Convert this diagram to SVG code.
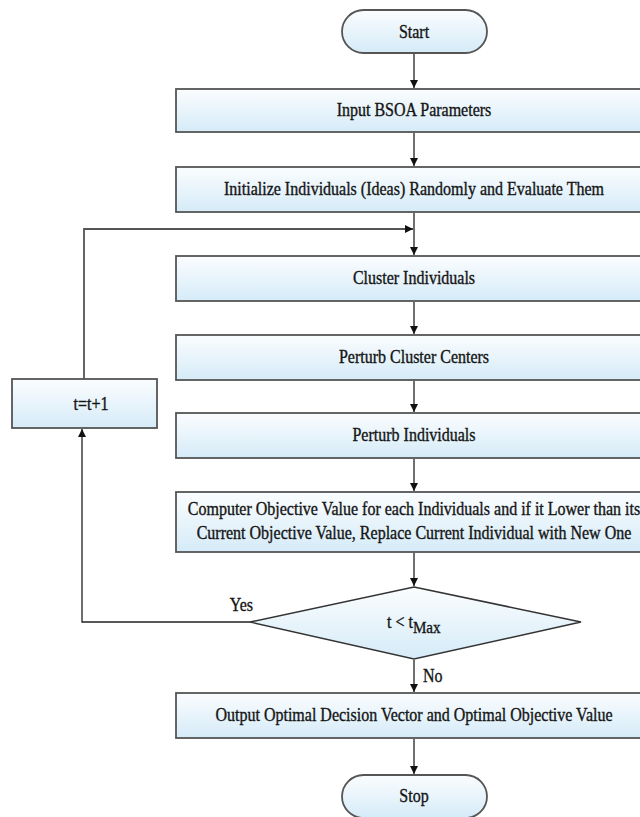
<svg xmlns="http://www.w3.org/2000/svg" width="640" height="817" viewBox="0 0 640 817">
<defs>
<linearGradient id="g" x1="0" y1="0" x2="0" y2="1">
<stop offset="0" stop-color="#fbfdfe"/>
<stop offset="1" stop-color="#d5ebf8"/>
</linearGradient>
<marker id="ah" markerWidth="8" markerHeight="8" refX="8" refY="4" orient="auto" markerUnits="userSpaceOnUse">
<path d="M0,0 L8,4 L0,8 Z" fill="#111"/>
</marker>
</defs>
<style>
.box{fill:url(#g);stroke:#555;stroke-width:1.8}
.dia{fill:url(#g);stroke:#333;stroke-width:1.5}
.t{font-family:"Liberation Serif","Times New Roman",serif;font-size:18px;fill:#151515;stroke:#151515;stroke-width:0.35;text-anchor:middle}
.c{fill:none;stroke:#222;stroke-width:1.3}
.lbl{font-family:"Liberation Serif","Times New Roman",serif;font-size:18px;fill:#151515;stroke:#151515;stroke-width:0.35}
</style>
<rect width="640" height="817" fill="#fff"/>
<g id="connectors">
<path class="c" d="M414,54 V88" marker-end="url(#ah)"/>
<path class="c" d="M414,133 V166" marker-end="url(#ah)"/>
<path class="c" d="M414,213 V255" marker-end="url(#ah)"/>
<path class="c" d="M414,302 V334" marker-end="url(#ah)"/>
<path class="c" d="M414,381 V412" marker-end="url(#ah)"/>
<path class="c" d="M414,459 V491" marker-end="url(#ah)"/>
<path class="c" d="M414,553 V586" marker-end="url(#ah)"/>
<path class="c" d="M414,660 V692" marker-end="url(#ah)"/>
<path class="c" d="M414,739 V774" marker-end="url(#ah)"/>
<path class="c" d="M250,622 H82 V429" marker-end="url(#ah)"/>
<path class="c" style="stroke:#555;stroke-width:1.8" d="M84,379 V229 H413" marker-end="url(#ah)"/>
<text class="lbl" transform="translate(253,611) scale(0.89,1)" text-anchor="end">Yes</text>
<text class="lbl" transform="translate(423,682) scale(0.89,1)">No</text>
</g>
<g id="start">
<rect class="box" x="342" y="10" width="145" height="43" rx="21.5"/>
<text class="t" transform="translate(414,38) scale(0.89,1)">Start</text>
</g>
<g id="input">
<rect class="box" x="176" y="89" width="476" height="43"/>
<text class="t" transform="translate(414,116) scale(0.89,1)">Input BSOA Parameters</text>
</g>
<g id="init">
<rect class="box" x="176" y="167" width="476" height="45"/>
<text class="t" transform="translate(414,195) scale(0.89,1)">Initialize Individuals (Ideas) Randomly and Evaluate Them</text>
</g>
<g id="cluster">
<rect class="box" x="176" y="256" width="476" height="45"/>
<text class="t" transform="translate(414,284) scale(0.89,1)">Cluster Individuals</text>
</g>
<g id="pcc">
<rect class="box" x="176" y="335" width="476" height="45"/>
<text class="t" transform="translate(414,363) scale(0.89,1)">Perturb Cluster Centers</text>
</g>
<g id="pi">
<rect class="box" x="176" y="413" width="476" height="45"/>
<text class="t" transform="translate(414,441) scale(0.89,1)">Perturb Individuals</text>
</g>
<g id="compute">
<rect class="box" x="176" y="492" width="476" height="60"/>
<text class="t" transform="translate(414,515) scale(0.89,1)">Computer Objective Value for each Individuals and if it Lower than its</text>
<text class="t" transform="translate(414,539) scale(0.89,1)">Current Objective Value, Replace Current Individual with New One</text>
</g>
<g id="decision">
<polygon class="dia" points="414,587 581,622 414,659 250,622"/>
<text class="lbl" transform="translate(387,628) scale(0.89,1)">t &lt; t<tspan dy="5" font-size="17">Max</tspan></text>
</g>
<g id="inc">
<rect class="box" x="12" y="379" width="145" height="49"/>
<text class="t" transform="translate(91,410) scale(0.89,1)">t=t+1</text>
</g>
<g id="output">
<rect class="box" x="176" y="693" width="476" height="45"/>
<text class="t" transform="translate(414,721) scale(0.89,1)">Output Optimal Decision Vector and Optimal Objective Value</text>
</g>
<g id="stop">
<rect class="box" x="342" y="775" width="145" height="43" rx="21.5"/>
<text class="t" transform="translate(414,802) scale(0.89,1)">Stop</text>
</g>
</svg>
